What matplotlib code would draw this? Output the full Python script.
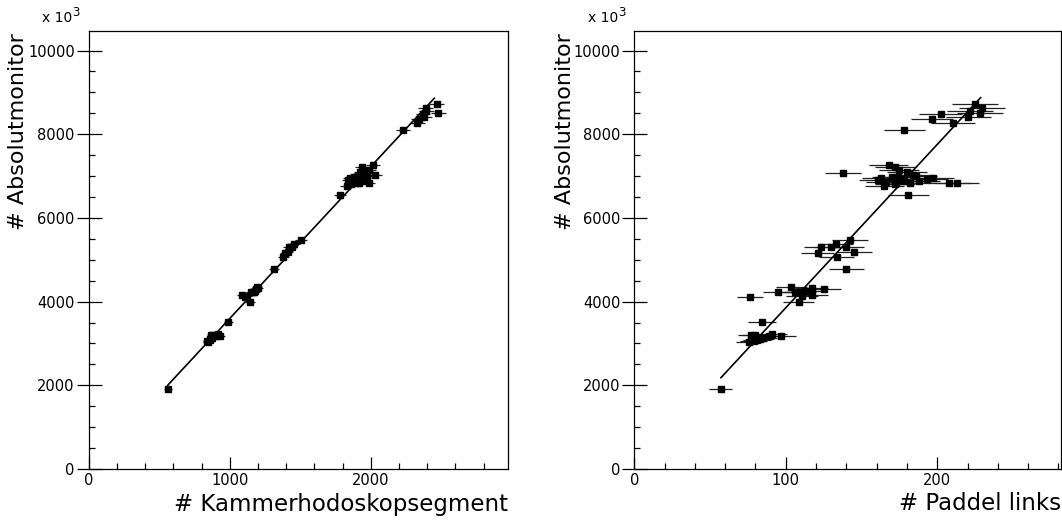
import matplotlib
matplotlib.use('Agg')
import matplotlib.pyplot as plt
from matplotlib.ticker import MultipleLocator

plt.rcParams['font.family'] = ['DejaVu Sans']

# ---------------------------------------------------------------
# data, y in units of 10^3
# ---------------------------------------------------------------
absmon = [1905,
          3030, 3190, 3086, 3130, 3171, 3226, 3170, 3060, 3110, 3200,
          3512, 4110,
          4220, 4357, 4220, 3980, 4140, 4260, 4320, 4160, 4290, 4230,
          4770,
          5153, 5297, 5313, 5370, 5073, 5297, 5472, 5177,
          7080, 6540,
          7264, 7224, 7150, 7104, 7025, 6980, 6950, 6920, 6906, 6890, 6870,
          6850, 6830, 6800, 6762, 6946, 6920, 6841, 6841, 6980, 7000,
          8100,
          8365, 8485, 8262, 8405, 8556, 8722, 8515, 8620]

kammer = [560,
          845, 880, 862, 875, 905, 915, 930, 840, 858, 870,
          990, 1110,
          1150, 1195, 1165, 1144, 1120, 1180, 1200, 1090, 1185, 1175,
          1314,
          1395, 1420, 1430, 1455, 1380, 1440, 1505, 1410,
          1930, 1782,
          2015, 1935, 1990, 1925, 2030, 1880, 1850, 1900, 1840, 1960, 1895,
          1870, 1915, 1860, 1830, 1955, 1945, 1905, 1985, 1890, 1975,
          2231,
          2340, 2370, 2330, 2380, 2395, 2468, 2480, 2390]

kammer_err = [28,
              32, 32, 32, 32, 33, 33, 33, 32, 32, 32,
              33, 35,
              36, 36, 36, 36, 35, 36, 36, 35, 36, 36,
              38,
              40, 40, 40, 40, 40, 40, 41, 40,
              46, 44,
              47, 46, 47, 46, 47, 46, 45, 46, 45, 46, 46,
              45, 46, 45, 45, 46, 46, 46, 47, 46, 47,
              50,
              52, 52, 52, 52, 52, 53, 53, 52]

paddel = [57,
          76, 77, 81, 85, 89, 91, 97, 79, 83, 80,
          84.5, 76.4,
          95, 103.5, 106, 108.5, 110.5, 114, 117, 117, 125, 109.5,
          140,
          121, 123, 130, 133, 133.6, 140, 142.4, 145,
          138, 181,
          168, 172, 175, 180, 184, 170, 163, 176, 161, 188, 178,
          166, 182, 172, 165, 197, 193, 208, 213, 174, 186,
          178.3,
          196.4, 202.3, 210.2, 220.5, 221.6, 224.9, 228.2, 229.7]

paddel_err = [7.5,
              8.7, 8.8, 9, 9.2, 9.4, 9.5, 9.8, 8.9, 9.1, 9,
              9.2, 8.8,
              9.8, 10.2, 10.3, 10.4, 10.5, 10.7, 10.8, 10.8, 11.2, 10.5,
              11.8,
              11, 11.1, 11.4, 11.5, 11.6, 11.8, 11.9, 12,
              11.8, 13.4,
              13, 13.1, 13.2, 13.4, 13.6, 13, 12.8, 13.3, 12.7, 13.7, 13.3,
              12.9, 13.5, 13.1, 12.8, 14, 13.9, 14.4, 14.6, 13.2, 13.6,
              13.4,
              14, 14.2, 14.5, 14.8, 14.9, 15, 15.1, 15.2]

# straight-line fits (end points)
fit_kammer_x = [560, 2450]
fit_kammer_y = [2000, 8858]
fit_paddel_x = [57.2, 228.6]
fit_paddel_y = [2182, 8873]

# ---------------------------------------------------------------
# figure
# ---------------------------------------------------------------
W, H = 1062, 531
fig = plt.figure(figsize=(W / 100, H / 100), dpi=100, facecolor='white')

ax1 = fig.add_axes([88.7 / W, 62 / H, 419.3 / W, 438 / H])
ax2 = fig.add_axes([634.3 / W, 62 / H, 427.2 / W, 438 / H])


def style(ax, xmax, xmajor, xminor):
    ax.set_xlim(0, xmax)
    ax.set_ylim(0, 10466)
    ax.xaxis.set_major_locator(MultipleLocator(xmajor))
    ax.xaxis.set_minor_locator(MultipleLocator(xminor))
    ax.yaxis.set_major_locator(MultipleLocator(2000))
    ax.yaxis.set_minor_locator(MultipleLocator(500))
    ax.tick_params(axis='y', which='major', direction='inout', length=18,
                   width=0.9, labelsize=10.5, pad=1)
    ax.tick_params(axis='y', which='minor', direction='in', length=4.5, width=0.9)
    ax.tick_params(axis='x', which='major', direction='in', length=9,
                   width=0.9, labelsize=10.5, pad=3)
    ax.tick_params(axis='x', which='minor', direction='in', length=4.5, width=0.9)
    for s in ax.spines.values():
        s.set_linewidth(0.9)


style(ax1, 2973, 1000, 200)
style(ax2, 282, 100, 20)

# ---- left: Kammerhodoskopsegment ----
ax1.errorbar(kammer, absmon, xerr=kammer_err, fmt='s', color='black',
             markersize=4.5, ecolor='#222222', elinewidth=0.9, capsize=0)
ax1.plot(fit_kammer_x, fit_kammer_y, color='black', linewidth=1.2)

# ---- right: Paddel links ----
ax2.errorbar(paddel, absmon, xerr=paddel_err, fmt='s', color='black',
             markersize=5, ecolor='#222222', elinewidth=0.9, capsize=0)
ax2.plot(fit_paddel_x, fit_paddel_y, color='black', linewidth=1.2)

# axis titles in ROOT style (right / top aligned)
fig.text(508 / W, 1 - 504 / H, '# Kammerhodoskopsegment', fontsize=16.5,
         ha='right', va='center')
fig.text(1061 / W, 1 - 504 / H, '# Paddel links', fontsize=16.5,
         ha='right', va='center')
for xl in (18, 565):
    fig.text(xl / W, 1 - 33 / H, '# Absolutmonitor', fontsize=16,
             rotation=90, ha='center', va='top')

# exponent labels
fig.text(42 / W, 1 - 18 / H, 'x 10', fontsize=10, ha='left', va='center')
fig.text(72 / W, 1 - 12 / H, '3', fontsize=8.5, ha='left', va='center')
fig.text(588 / W, 1 - 18 / H, 'x 10', fontsize=10, ha='left', va='center')
fig.text(618 / W, 1 - 12 / H, '3', fontsize=8.5, ha='left', va='center')

plt.savefig('out.png', dpi=100, facecolor='white')
